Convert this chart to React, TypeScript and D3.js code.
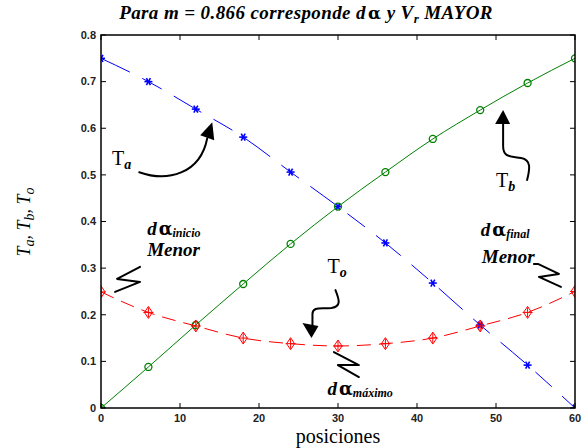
import React from "react";
import * as d3 from "d3";

// ---- data ----
const positions = [0, 6, 12, 18, 24, 30, 36, 42, 48, 54, 60];
const taValues = [0.75, 0.7, 0.641, 0.581, 0.506, 0.432, 0.354, 0.268, 0.178, 0.092, 0.0];
const tbValues = [0.0, 0.088, 0.178, 0.266, 0.352, 0.432, 0.506, 0.577, 0.639, 0.697, 0.75];
const toValues = [0.249, 0.205, 0.176, 0.15, 0.138, 0.133, 0.138, 0.15, 0.176, 0.205, 0.25];
const xTicks = [0, 10, 20, 30, 40, 50, 60];
const yTicks = [0, 0.1, 0.2, 0.3, 0.4, 0.5, 0.6, 0.7, 0.8];
const yTickLabels = ["0", "0.1", "0.2", "0.3", "0.4", "0.5", "0.6", "0.7", "0.8"];

const W = 583;
const H = 448;
const SERIF = "'Liberation Serif', 'Times New Roman', serif";
const GREEK = "'DejaVu Serif', serif";
const SANS = "'Liberation Sans', Arial, sans-serif";

export default function App() {
  const x = d3.scaleLinear().domain([0, 60]).range([101, 575]);
  const y = d3.scaleLinear().domain([0, 0.8]).range([408, 35]);
  const [x0, x1] = x.range();
  const [y0, y1] = y.range();

  const line = (vals: number[]) =>
    d3
      .line<number>()
      .x((_, i) => x(positions[i]))
      .y((v) => y(v))
      .curve(d3.curveMonotoneX)(vals) as string;

  const at = (xd: number, yd: number) => `translate(${x(xd)},${y(yd)})`;

  const arrowHead = (pts: [number, number][]) => "M" + pts.map((p) => p.join(",")).join("L") + "Z";

  return (
    <div style={{ position: "absolute", left: 0, top: 0 }}>
      <svg width={W} height={H} style={{ display: "block", background: "#fff" }}>
        <defs>
          <clipPath id="plotclip">
            <rect x={x0} y={y1} width={x1 - x0} height={y0 - y1} />
          </clipPath>
        </defs>

        {/* Title */}
        <text x={306} y={19} textAnchor="middle" fontFamily={SERIF} fontSize={19} fontWeight="bold" fontStyle="italic" letterSpacing={0.4}>
          Para m = 0.866 corresponde d
          <tspan fontFamily={GREEK} fontStyle="normal" fontSize={17} dx={2}>α</tspan> y V
          <tspan fontSize={13} dy={4}>r</tspan>
          <tspan dy={-4}> MAYOR</tspan>
        </text>

        {/* series */}
        <g clipPath="url(#plotclip)">
          <path d={line(taValues)} fill="none" stroke="#0000ff" strokeWidth={1} strokeDasharray="32,14,22,14" />
          <path d={line(tbValues)} fill="none" stroke="#008000" strokeWidth={1} />
          <path d={line(toValues)} fill="none" stroke="#ff0000" strokeWidth={1} strokeDasharray="14,8" />

          {taValues.map((v, i) => (
            <g key={"a" + i} transform={`translate(${x(positions[i])},${y(v)})`} stroke="#0000ff" strokeWidth={1.6}>
              <line x1={-4} y1={0} x2={4} y2={0} />
              <line x1={-2} y1={-3.5} x2={2} y2={3.5} />
              <line x1={-2} y1={3.5} x2={2} y2={-3.5} />
            </g>
          ))}
          {tbValues.map((v, i) => (
            <circle key={"b" + i} cx={x(positions[i])} cy={y(v)} r={3.5} fill="none" stroke="#008000" strokeWidth={1.3} />
          ))}
          {toValues.map((v, i) => (
            <g key={"o" + i} transform={`translate(${x(positions[i])},${y(v)})`} stroke="#ff0000" strokeWidth={1} fill="none">
              <path d="M0,-6L4,0L0,6L-4,0Z" />
              <line x1={0} y1={-5} x2={0} y2={5} />
              <line x1={-5} y1={0} x2={5} y2={0} />
            </g>
          ))}
        </g>

        {/* frame */}
        <rect x={x0} y={y1} width={x1 - x0} height={y0 - y1} fill="none" stroke="#000" strokeWidth={1.5} />

        {/* ticks */}
        {xTicks.map((t) => (
          <g key={"xt" + t}>
            <line x1={x(t)} x2={x(t)} y1={y0} y2={y0 - 5} stroke="#000" />
            <line x1={x(t)} x2={x(t)} y1={y1} y2={y1 + 5} stroke="#000" />
            <text x={x(t)} y={422} textAnchor="middle" fontFamily={SANS} fontSize={11} fontWeight="bold" fill="#222">
              {t}
            </text>
          </g>
        ))}
        {yTicks.map((t, i) => (
          <g key={"yt" + t}>
            <line x1={x0} x2={x0 + 5} y1={y(t)} y2={y(t)} stroke="#000" />
            <line x1={x1} x2={x1 - 5} y1={y(t)} y2={y(t)} stroke="#000" />
            <text x={96} y={y(t)} dy="0.35em" textAnchor="end" fontFamily={SANS} fontSize={11} fontWeight="bold" fill="#222">
              {yTickLabels[i]}
            </text>
          </g>
        ))}

        {/* axis labels */}
        <text x={338} y={443} textAnchor="middle" fontFamily={SERIF} fontSize={20}>
          posiciones
        </text>
        <text transform="translate(30,222) rotate(-90)" textAnchor="middle" fontFamily={SERIF} fontSize={18} fontStyle="italic">
          T<tspan fontSize={14} dy={4}>a</tspan>
          <tspan dy={-4}>, T</tspan>
          <tspan fontSize={14} dy={4}>b</tspan>
          <tspan dy={-4}>, T</tspan>
          <tspan fontSize={14} dy={4}>o</tspan>
        </text>

        {/* annotations: T labels */}
        <g fontFamily={SERIF} fontSize={20}>
          <text transform={at(1.4, 0.521)}>
            T<tspan fontSize={14} fontWeight="bold" fontStyle="italic" dy={4}>a</tspan>
          </text>
          <text transform={at(50.0, 0.474)}>
            T<tspan fontSize={14} fontWeight="bold" fontStyle="italic" dy={4}>b</tspan>
          </text>
          <text transform={at(28.67, 0.29)}>
            T<tspan fontSize={14} fontWeight="bold" fontStyle="italic" dy={4}>o</tspan>
          </text>
        </g>

        {/* curved arrows */}
        <g stroke="#000" strokeWidth={2} fill="none" strokeLinecap="round">
          <g transform={at(14.08, 0.613)}>
            <path d="M-73,50 C-45,60 -12,52 -5,16" />
            <path d={arrowHead([[0, 0], [-12, 13], [2, 18]])} fill="#000" stroke="none" />
          </g>
          <g transform={at(50.9, 0.639)}>
            <path d="M24,70 C27,58 28,50 18,48 C8,46 0,48 0,36 L0,14" />
            <path d={arrowHead([[0, 0], [-8, 14], [7, 14]])} fill="#000" stroke="none" />
          </g>
          <g transform={at(26.64, 0.15)}>
            <path d="M24,-48 C28,-38 30,-32 20,-30 C10,-29 1,-32 1,-24 L1,-13" />
            <path d={arrowHead([[0, 0], [-9, -15], [7, -12]])} fill="#000" stroke="none" />
          </g>
        </g>

        {/* zigzags */}
        <g stroke="#000" strokeWidth={2} fill="none" strokeLinejoin="round" strokeLinecap="round">
          <path transform={at(1.78, 0.249)} d="M25,-25 L2,-13 L25,-10 L0,0" />
          <path transform={at(54.8, 0.309)} d="M0,0 L4,0 L25,10 L5,13 L27,23" />
          <path transform={at(29.48, 0.12)} d="M0,0 L25,13 L4,13 L25,25" />
        </g>

        {/* dα labels */}
        <g fontFamily={SERIF} fontWeight="bold" fontStyle="italic" fontSize={19}>
          <text transform={at(5.84, 0.372)}>
            d<tspan fontFamily={GREEK} fontStyle="normal" fontSize={18} dx={2}>α</tspan>
            <tspan fontSize={12} dy={2}>inicio</tspan>
          </text>
          <text transform={at(5.84, 0.326)}>Menor</text>
          <text transform={at(48.08, 0.368)}>
            d<tspan fontFamily={GREEK} fontStyle="normal" fontSize={18} dx={2}>α</tspan>
            <tspan fontSize={12} dy={2}>final</tspan>
          </text>
          <text transform={at(48.2, 0.311)}>Menor</text>
          <text transform={at(28.67, 0.028)}>
            d<tspan fontFamily={GREEK} fontStyle="normal" fontSize={18} dx={2}>α</tspan>
            <tspan fontSize={12} dy={2}>máximo</tspan>
          </text>
        </g>
      </svg>
    </div>
  );
}
